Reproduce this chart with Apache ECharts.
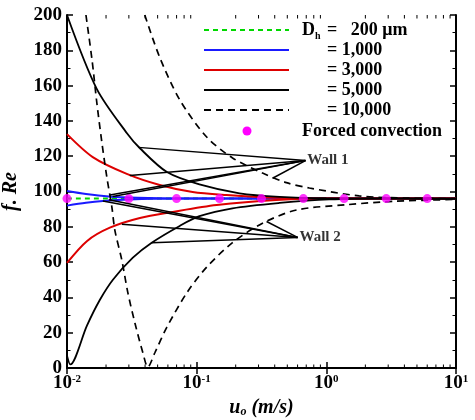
<!DOCTYPE html>
<html>
<head>
<meta charset="utf-8">
<script src="https://cdn.jsdelivr.net/npm/echarts@6/dist/echarts.min.js"></script>
<style>
  html, body { margin: 0; padding: 0; background: #fff; }
  #chart { width: 475px; height: 420px; }
</style>
</head>
<body>
<div id="chart"></div>
<script>
// curves: [u_o (m/s), f.Re]
var dh200 = [[0.01, 96], [10, 96]];
var dh1000Up = [[0.01, 100.3], [0.014, 98.6], [0.021, 97.2], [0.035, 96.4], [0.07, 96], [10, 96]];
var dh1000Low = [[0.01, 92], [0.014, 93.6], [0.0189, 94.6], [0.03, 95.5], [0.07, 96], [10, 96]];
var dh3000Up = [[0.01, 132.5], [0.0158, 119.5], [0.0289, 110], [0.0519, 103.7], [0.093, 99.7], [0.17, 98], [0.41, 96.4], [1, 96], [10, 96]];
var dh3000Low = [[0.01, 59.5], [0.0143, 72], [0.0214, 79.5], [0.0365, 85], [0.0653, 88.4], [0.1425, 92.3], [0.41, 95.2], [1, 96], [10, 96]];
var dh5000Up = [[0.01, 200], [0.017, 158], [0.029, 133], [0.0365, 124.5], [0.059, 111], [0.105, 104], [0.214, 99], [0.435, 97], [1, 96.2], [10, 96]];
var dh5000Low = [[0.01, 7], [0.0106, 2], [0.01425, 24], [0.0179, 38.5], [0.0226, 50], [0.0322, 62.5], [0.045, 71], [0.074, 80.5], [0.105, 86], [0.189, 90.5], [0.435, 93.5], [1.05, 95.5], [3, 96], [10, 96]];
var dh10000Up = [[0.0398, 200], [0.0519, 176], [0.074, 152], [0.119, 131], [0.189, 119], [0.322, 110.5], [0.492, 105], [0.74, 102], [1.79, 97.5], [4.35, 96.2], [10, 96]];
var dh10000Low = [[0.014, 200], [0.0156, 174.5], [0.017, 150], [0.0186, 127.5], [0.0203, 108], [0.0222, 91], [0.0234, 78], [0.0265, 61], [0.0294, 43], [0.0334, 25.5], [0.0385, 8.5], [0.042, 0.5], [0.0475, 8.5], [0.0588, 23], [0.0838, 42.5], [0.119, 57], [0.189, 71], [0.322, 82], [0.588, 89.5], [1.425, 92.5], [3.45, 94.5], [10, 95.5]];
var forced = [[0.01, 96], [0.03, 96], [0.07, 96], [0.15, 96], [0.316, 96], [0.665, 96], [1.37, 96], [2.9, 96], [6, 96]];

// leader lines for the wall labels
var wall1Tip = [0.69, 117.5];
var wall1Ends = [[0.0355, 125], [0.0305, 109], [0.0214, 98], [0.0225, 97.2], [0.385, 107.5]];
var wall2Tip = [0.6, 74];
var wall2Ends = [[0.0189, 94.6], [0.021, 95.3], [0.0265, 81.5], [0.045, 71], [0.346, 83]];
var wallLabels = [[0.7, 117.5, 'Wall 1'], [0.61, 74, 'Wall 2']];

var xMinorTicks = [0.02, 0.03, 0.04, 0.05, 0.06, 0.07, 0.08, 0.09,
                   0.2, 0.3, 0.4, 0.5, 0.6, 0.7, 0.8, 0.9,
                   2, 3, 4, 5, 6, 7, 8, 9];

var FONT = '"Liberation Serif", "Times New Roman", serif';
var GREEN = '#00d800', BLUE = '#1a1aff', RED = '#dd0000', MAGENTA = '#ff00ff';
var DASH = [7, 5];

function leaders(tip, ends) {
    return ends.map(function (e) {
        return [{ coord: e }, { coord: tip }];
    });
}

function curve(name, data, color, width, dash) {
    return {
        name: name,
        type: 'line',
        data: data,
        showSymbol: false,
        smooth: 0.3,
        silent: true,
        lineStyle: { color: color, width: width, type: dash || 'solid' },
        z: 3
    };
}

var chart = echarts.init(document.getElementById('chart'));

var axisLineStyle = { lineStyle: { color: '#000', width: 2 } };
var tickStyle = { inside: true, length: 6, lineStyle: { color: '#000', width: 1.5 } };
var minorStyle = { show: true, splitNumber: 2, length: 3.5, lineStyle: { color: '#000', width: 1 } };

var series = [
    curve('200', dh200, GREEN, 2, [5, 4]),
    curve('1000u', dh1000Up, BLUE, 2),
    curve('1000l', dh1000Low, BLUE, 2),
    curve('3000u', dh3000Up, RED, 2),
    curve('3000l', dh3000Low, RED, 2),
    curve('5000u', dh5000Up, '#000', 1.8),
    curve('5000l', dh5000Low, '#000', 1.8),
    curve('10000u', dh10000Up, '#000', 1.7, DASH),
    curve('10000l', dh10000Low, '#000', 1.7, DASH),
    {
        name: 'Forced convection',
        type: 'scatter',
        data: forced,
        symbolSize: 9,
        itemStyle: { color: MAGENTA },
        silent: true,
        z: 4
    },
    {
        name: 'walls',
        type: 'scatter',
        data: wallLabels,
        symbolSize: 0,
        silent: true,
        label: {
            show: true,
            position: 'right',
            distance: 1,
            formatter: function (p) { return p.value[2]; },
            fontFamily: FONT,
            fontWeight: 'bold',
            fontSize: 15,
            color: '#000'
        },
        markLine: {
            silent: true,
            symbol: 'none',
            label: { show: false },
            lineStyle: { color: '#000', width: 1.5, type: 'solid' },
            data: leaders(wall1Tip, wall1Ends).concat(leaders(wall2Tip, wall2Ends))
        },
        z: 5
    },
    {
        // log minor ticks, bottom and top
        name: 'minorTicks',
        type: 'custom',
        silent: true,
        clip: false,
        data: xMinorTicks.map(function (v) { return [v]; }),
        renderItem: function (params, api) {
            var b = api.coord([api.value(0), 0]);
            var t = api.coord([api.value(0), 200]);
            var st = { stroke: '#000', lineWidth: 1 };
            return {
                type: 'group',
                children: [
                    { type: 'line', shape: { x1: b[0], y1: b[1], x2: b[0], y2: b[1] - 3.5 }, style: st },
                    { type: 'line', shape: { x1: t[0], y1: t[1], x2: t[0], y2: t[1] + 3.5 }, style: st }
                ]
            };
        },
        z: 6
    }
];

// legend drawn by hand (lines + texts)
var legendRows = [30, 50, 70, 90, 110, 131];
var legendText = ['= 1,000', '= 3,000', '= 5,000', '= 10,000'];
var legendStyles = [
    { stroke: GREEN, lineWidth: 2, lineDash: [5, 4] },
    { stroke: BLUE, lineWidth: 2 },
    { stroke: RED, lineWidth: 2 },
    { stroke: '#000', lineWidth: 2 },
    { stroke: '#000', lineWidth: 1.8, lineDash: DASH }
];
var legendFont = 'bold 18px ' + FONT;
var graphic = [];
legendStyles.forEach(function (s, i) {
    graphic.push({ type: 'line', shape: { x1: 204, y1: legendRows[i], x2: 289, y2: legendRows[i] }, style: s, silent: true });
});
graphic.push({ type: 'circle', shape: { cx: 247, cy: legendRows[5], r: 4.5 }, style: { fill: MAGENTA }, silent: true });
graphic.push({ type: 'text', x: 302, y: legendRows[0], style: { text: 'D', font: legendFont, fill: '#000', verticalAlign: 'middle' }, silent: true });
graphic.push({ type: 'text', x: 315, y: legendRows[0] + 6, style: { text: 'h', font: 'bold 10px ' + FONT, fill: '#000', verticalAlign: 'middle' }, silent: true });
graphic.push({ type: 'text', x: 327, y: legendRows[0], style: { text: '=   200 μm', font: legendFont, fill: '#000', verticalAlign: 'middle' }, silent: true });
legendText.forEach(function (t, i) {
    graphic.push({ type: 'text', x: 327, y: legendRows[i + 1], style: { text: t, font: legendFont, fill: '#000', verticalAlign: 'middle' }, silent: true });
});
graphic.push({ type: 'text', x: 302, y: legendRows[5], style: { text: 'Forced convection', font: legendFont, fill: '#000', verticalAlign: 'middle' }, silent: true });

var option = {
    animation: false,
    backgroundColor: '#fff',
    grid: { left: 67, right: 19, top: 15, bottom: 52, containLabel: false, outerBoundsMode: 'none' },
    xAxis: [
        {
            type: 'log',
            logBase: 10,
            min: 0.01,
            max: 10,
            position: 'bottom',
            axisLine: axisLineStyle,
            axisTick: tickStyle,
            splitLine: { show: false },
            axisLabel: {
                margin: 6,
                color: '#000',
                formatter: function (v) {
                    return '{b|10}{s|' + Math.round(Math.log10(v)) + '}';
                },
                rich: {
                    b: { fontFamily: FONT, fontWeight: 'bold', fontSize: 19, color: '#000' },
                    s: { fontFamily: FONT, fontWeight: 'bold', fontSize: 11, color: '#000', verticalAlign: 'top' }
                }
            },
            name: '{i|u}{o|o}{i| (m/s)}',
            nameLocation: 'middle',
            nameGap: 27,
            nameTextStyle: {
                rich: {
                    i: { fontFamily: FONT, fontWeight: 'bold', fontStyle: 'italic', fontSize: 20, color: '#000' },
                    o: { fontFamily: FONT, fontWeight: 'bold', fontStyle: 'italic', fontSize: 12, color: '#000', verticalAlign: 'bottom' }
                }
            }
        },
        {
            type: 'log',
            logBase: 10,
            min: 0.01,
            max: 10,
            position: 'top',
            axisLine: axisLineStyle,
            axisTick: tickStyle,
            axisLabel: { show: false },
            splitLine: { show: false }
        }
    ],
    yAxis: [
        {
            type: 'value',
            min: 0,
            max: 200,
            interval: 20,
            position: 'left',
            axisLine: axisLineStyle,
            axisTick: tickStyle,
            minorTick: minorStyle,
            splitLine: { show: false },
            axisLabel: { margin: 5, color: '#000', fontFamily: FONT, fontWeight: 'bold', fontSize: 19 },
            name: 'f. Re',
            nameLocation: 'middle',
            nameRotate: 90,
            nameGap: 46,
            nameTextStyle: { fontFamily: FONT, fontWeight: 'bold', fontStyle: 'italic', fontSize: 20, color: '#000' }
        },
        {
            type: 'value',
            min: 0,
            max: 200,
            interval: 20,
            position: 'right',
            axisLine: axisLineStyle,
            axisTick: tickStyle,
            minorTick: minorStyle,
            axisLabel: { show: false },
            splitLine: { show: false }
        }
    ],
    graphic: graphic,
    series: series
};

chart.setOption(option);
</script>
</body>
</html>
